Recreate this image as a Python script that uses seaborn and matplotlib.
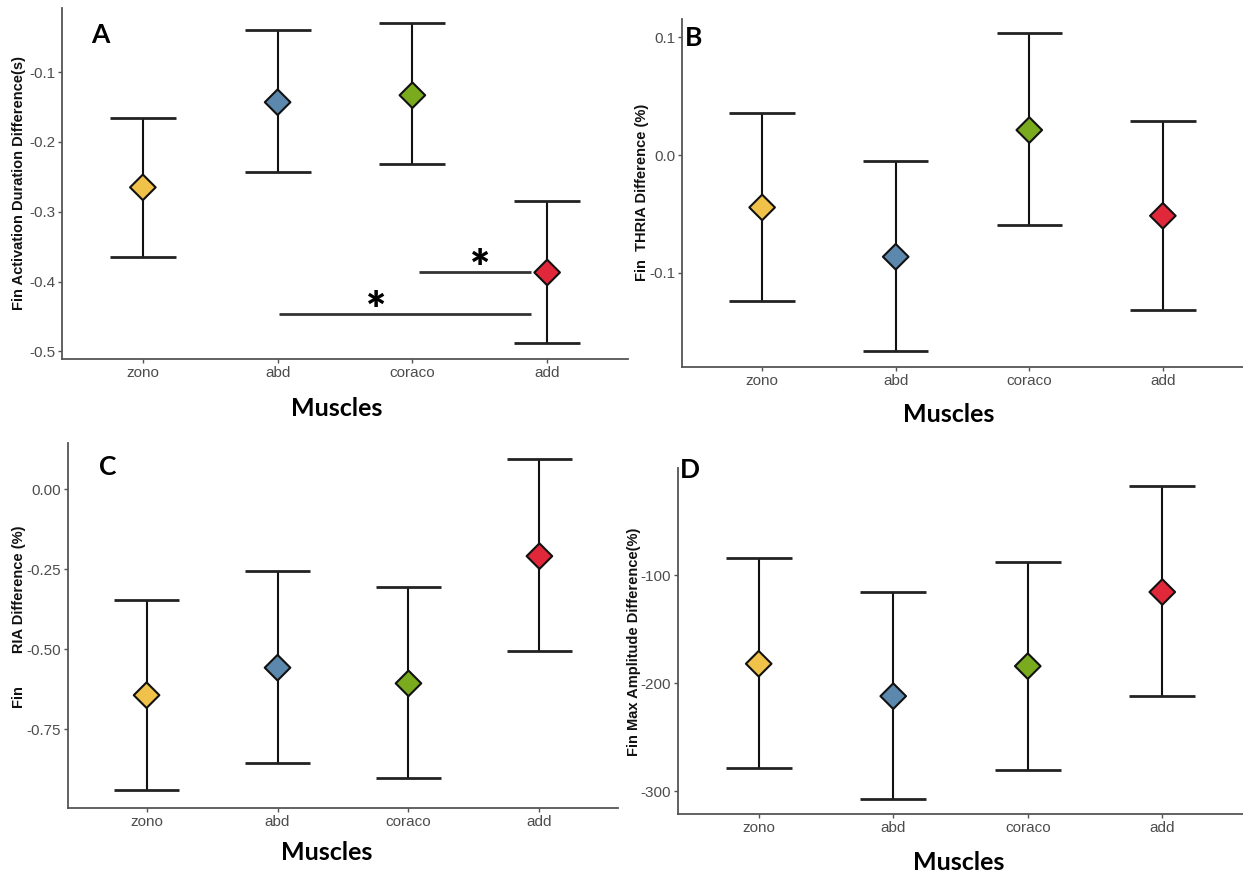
import numpy as np
import matplotlib
matplotlib.use("Agg")
import matplotlib.pyplot as plt
from matplotlib import font_manager
import seaborn as sns

sns.set_style("white")

muscles = ["zono", "abd", "coraco", "add"]
colors = ["#F0C24A", "#5D88AE", "#7AAA1E", "#E0283A"]

# mean, lower, upper per panel
dur_mean = [-0.265, -0.143, -0.133, -0.387]
dur_lo = [-0.365, -0.243, -0.232, -0.488]
dur_hi = [-0.165, -0.040, -0.030, -0.285]

thria_mean = [-0.0445, -0.0864, 0.0212, -0.0516]
thria_lo = [-0.124, -0.166, -0.059, -0.132]
thria_hi = [0.0354, -0.0051, 0.1034, 0.0292]

ria_mean = [-0.644, -0.558, -0.607, -0.209]
ria_lo = [-0.941, -0.855, -0.903, -0.506]
ria_hi = [-0.347, -0.257, -0.305, 0.094]

amp_mean = [-181.9, -211.9, -184.1, -115.5]
amp_lo = [-278.4, -306.8, -280.0, -211.9]
amp_hi = [-83.9, -115.1, -87.3, -17.5]

W, H = 1243, 877
fig = plt.figure(figsize=(W / 100, H / 100), dpi=100)

def rect(l, t, r, b):
    return [l / W, 1 - b / H, (r - l) / W, (b - t) / H]

# narrow font for ticks if it is there
try:
    font_manager.findfont("Liberation Sans Narrow", fallback_to_default=False)
    tick_font = ["Liberation Sans Narrow", "DejaVu Sans"]
    tick_size = 12
except Exception:
    tick_font = ["Liberation Sans", "DejaVu Sans"]
    tick_size = 11
big_font = ["Lato", "DejaVu Sans"]


def panel(box, mean, lo, hi, ylim, yticks, yticklabels):
    ax = fig.add_axes(rect(*box))
    x = np.arange(len(muscles))
    mean = np.array(mean)
    lo = np.array(lo)
    hi = np.array(hi)
    ax.vlines(x, lo, hi, color="#111111", lw=1.5, zorder=2)
    ax.hlines(lo, x - 0.245, x + 0.245, color="#222222", lw=2.0, zorder=2)
    ax.hlines(hi, x - 0.245, x + 0.245, color="#222222", lw=2.0, zorder=2)
    sns.scatterplot(x=x, y=mean, hue=muscles, palette=colors, marker="D",
                    s=170, edgecolor="#111111", linewidth=1.5, legend=False,
                    ax=ax, zorder=3)
    ax.set_xlim(-0.6, 3.6)
    ax.set_ylim(*ylim)
    ax.set_xticks(x)
    ax.set_xticklabels(muscles)
    ax.set_yticks(yticks)
    ax.set_yticklabels(yticklabels)
    for lab in ax.get_xticklabels() + ax.get_yticklabels():
        lab.set_family(tick_font)
        lab.set_fontsize(tick_size)
        lab.set_color("#4D4D4D")
    ax.tick_params(axis="both", length=3, width=1, color="#555555", pad=2,
                   bottom=True, left=True)
    sns.despine(ax=ax)
    for s in ["left", "bottom"]:
        ax.spines[s].set_color("#555555")
        ax.spines[s].set_linewidth(1.3)
    ax.set_xlabel("")
    ax.set_ylabel("")
    return ax


axA = panel((62, 8, 628, 359), dur_mean, dur_lo, dur_hi, (-0.511, -0.008),
            [-0.1, -0.2, -0.3, -0.4, -0.5], ["-0.1", "-0.2", "-0.3", "-0.4", "-0.5"])
axB = panel((682, 19, 1243, 367), thria_mean, thria_lo, thria_hi, (-0.180, 0.1155),
            [0.1, 0.0, -0.1], ["0.1", "0.0", "-0.1"])
axC = panel((68, 443, 618, 808), ria_mean, ria_lo, ria_hi, (-0.997, 0.145),
            [0.0, -0.25, -0.5, -0.75], ["0.00", "-0.25", "-0.50", "-0.75"])
axD = panel((678, 468, 1243, 814), amp_mean, amp_lo, amp_hi, (-321, -0.7),
            [-100, -200, -300], ["-100", "-200", "-300"])

# significance bars in panel A
axA.hlines(-0.446, 1.01, 2.88, color="#333333", lw=2.0)
axA.hlines(-0.387, 2.05, 2.88, color="#333333", lw=2.0)
axA.text(1.73, -0.463, "*", ha="center", va="baseline", fontsize=34,
         fontweight="heavy", family=big_font, color="black")
axA.text(2.5, -0.404, "*", ha="center", va="baseline", fontsize=34,
         fontweight="heavy", family=big_font, color="black")

# panel letters
for lbl, (px, py) in zip("ABCD", [(100, 35), (694, 38), (108, 467), (690, 470)]):
    fig.text(px / W, 1 - py / H, lbl, ha="center", va="center", fontsize=19,
             fontweight="bold", family=big_font, color="black")

# x axis titles
for (px, py) in [(337, 408), (949, 415), (327, 853), (959, 863)]:
    fig.text(px / W, 1 - py / H, "Muscles", ha="center", va="center",
             fontsize=18, fontweight="bold", family=big_font, color="black")

# y axis titles
ylabels = ["Fin Activation Duration Difference(s)", "Fin  THRIA Difference (%)",
           "Fin        RIA Difference (%)", "Fin Max Amplitude Difference(%)"]
for txt, (px, py) in zip(ylabels, [(19, 183), (642, 192), (19, 617), (634, 642)]):
    fig.text(px / W, 1 - py / H, txt, ha="center", va="center", rotation=90,
             fontsize=10.5, fontweight="bold", color="#111111",
             family=["Liberation Sans", "DejaVu Sans"])

fig.savefig("out.png", dpi=100)
